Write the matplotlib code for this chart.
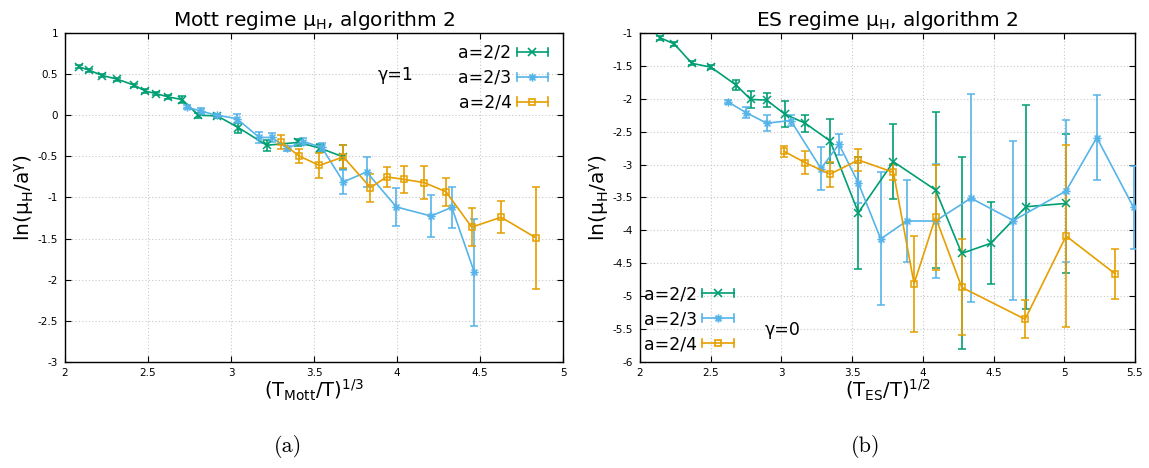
import matplotlib
matplotlib.use("Agg")
import matplotlib.pyplot as plt
from matplotlib.lines import Line2D
from matplotlib.path import Path
from matplotlib.legend_handler import HandlerBase
from matplotlib.ticker import FuncFormatter, MultipleLocator

plt.rcParams["axes.unicode_minus"] = False
plt.rcParams["font.family"] = ["DejaVu Sans"]
plt.rcParams["mathtext.fontset"] = "dejavusans"

# ---------------- Mott regime (panel a) ----------------
mott_labels = ["a=2/2", "a=2/3", "a=2/4"]

mott_x_22 = [2.084, 2.146, 2.225, 2.315, 2.418, 2.482, 2.546, 2.622, 2.706, 2.803,
             2.917, 3.044, 3.215, 3.405, 3.536, 3.677]
mott_y_22 = [0.59, 0.547, 0.483, 0.438, 0.365, 0.295, 0.264, 0.223, 0.19, 0.0,
             -0.008, -0.15, -0.365, -0.33, -0.40, -0.507]
mott_e_22 = [0.02, 0.02, 0.02, 0.02, 0.02, 0.02, 0.02, 0.02, 0.04, 0.03,
             0.02, 0.06, 0.07, 0.045, 0.05, 0.15]

mott_x_23 = [2.733, 2.818, 2.914, 3.034, 3.17, 3.245, 3.339, 3.435, 3.546, 3.677,
             3.817, 3.996, 4.205, 4.33, 4.466]
mott_y_23 = [0.10, 0.05, 0.0, -0.04, -0.27, -0.27, -0.40, -0.32, -0.39, -0.81,
             -0.69, -1.115, -1.225, -1.12, -1.91]
mott_e_23 = [0.03, 0.04, 0.02, 0.06, 0.07, 0.05, 0.03, 0.04, 0.05, 0.15,
             0.18, 0.23, 0.26, 0.25, 0.65]

mott_x_24 = [3.30, 3.41, 3.532, 3.677, 3.84, 3.937, 4.044, 4.165, 4.295, 4.45, 4.627, 4.837]
mott_y_24 = [-0.325, -0.495, -0.61, -0.507, -0.88, -0.75, -0.78, -0.82, -0.93, -1.36, -1.24, -1.49]
mott_e_24 = [0.09, 0.08, 0.15, 0.14, 0.17, 0.125, 0.16, 0.2, 0.17, 0.23, 0.195, 0.62]

# ---------------- ES regime (panel b) ----------------
es_x_22 = [2.141, 2.243, 2.366, 2.502, 2.679, 2.783, 2.896, 3.025, 3.167, 3.344,
           3.544, 3.792, 4.09, 4.275, 4.48, 4.73, 5.013]
es_y_22 = [-1.071, -1.167, -1.46, -1.52, -1.79, -2.01, -2.02, -2.235, -2.37, -2.64,
           -3.73, -2.956, -3.386, -4.35, -4.196, -3.64, -3.59]
es_e_22 = [0.03, 0.03, 0.03, 0.03, 0.08, 0.13, 0.11, 0.2, 0.13, 0.33,
           0.85, 0.57, 1.19, 1.46, 0.62, 1.55, 1.05]

es_x_23 = [2.62, 2.75, 2.896, 3.066, 3.28, 3.407, 3.544, 3.702, 3.886, 4.09,
           4.34, 4.64, 5.013, 5.23, 5.49]
es_y_23 = [-2.044, -2.21, -2.37, -2.33, -3.06, -2.69, -3.28, -4.13, -3.857, -3.857,
           -3.51, -3.85, -3.40, -2.59, -3.65]
es_e_23 = [0.03, 0.08, 0.12, 0.08, 0.33, 0.16, 0.3, 1.01, 0.63, 0.86,
           1.58, 1.21, 1.08, 0.65, 0.63]

es_x_24 = [3.02, 3.167, 3.344, 3.544, 3.792, 3.938, 4.09, 4.275, 4.723, 5.013, 5.36]
es_y_24 = [-2.80, -2.97, -3.145, -2.93, -3.117, -4.81, -3.80, -4.865, -5.35, -4.085, -4.66]
es_e_24 = [0.09, 0.17, 0.19, 0.16, 0.12, 0.73, 0.8, 0.73, 0.29, 1.38, 0.38]

colors = ["#009e73", "#56b4e9", "#e69f00"]

# gnuplot-like asterisk: a plus sign overlaid with a cross
_d = 0.72
asterisk = Path([(-1, 0), (1, 0), (0, -1), (0, 1),
                 (-_d, -_d), (_d, _d), (-_d, _d), (_d, -_d)],
                [Path.MOVETO, Path.LINETO] * 4)
markers = ["x", asterisk, "s"]
msizes = [5.5, 6.0, 4.5]


class HorizontalErrorHandler(HandlerBase):
    """Legend sample drawn as a horizontal error bar with the point marker in the middle."""

    def create_artists(self, legend, orig_handle, xdescent, ydescent,
                       width, height, fontsize, trans):
        c = orig_handle.get_color()
        lw = orig_handle.get_linewidth()
        x0, x1 = -xdescent, width - xdescent
        y = height / 2 - ydescent
        cap = 3.0
        arts = [
            Line2D([x0, x1], [y, y], color=c, lw=lw),
            Line2D([x0, x0], [y - cap, y + cap], color=c, lw=lw),
            Line2D([x1, x1], [y - cap, y + cap], color=c, lw=lw),
            Line2D([(x0 + x1) / 2], [y], color=c, marker=orig_handle.get_marker(),
                   ms=orig_handle.get_markersize(), mfc="none", mew=lw, ls="none"),
        ]
        for a in arts:
            a.set_transform(trans)
        return arts


def fmt(v, pos):
    return "%g" % v


def draw_panel(ax, series, title, xlabel, xlim, ylim, xstep):
    for (x, y, e), c, m, ms in zip(series, colors, markers, msizes):
        ax.errorbar(x, y, yerr=e, color=c, marker=m, ms=ms, mfc="none", mew=1.1,
                    lw=1.2, elinewidth=1.2, capsize=3, capthick=1.2, zorder=3)
    ax.set_xlim(*xlim)
    ax.set_ylim(*ylim)
    ax.xaxis.set_major_locator(MultipleLocator(xstep))
    ax.yaxis.set_major_locator(MultipleLocator(0.5))
    ax.xaxis.set_major_formatter(FuncFormatter(fmt))
    ax.yaxis.set_major_formatter(FuncFormatter(fmt))
    ax.tick_params(direction="in", top=True, right=True, length=4, width=0.8,
                   labelsize=7.5, pad=5)
    ax.tick_params(axis="x", pad=4)
    ax.grid(True, color="#c8c8c8", linestyle=(0, (1, 2)), lw=0.8, zorder=0)
    for s in ax.spines.values():
        s.set_linewidth(1.0)
    ax.set_title(title, fontsize=14.5, pad=5)
    ax.set_xlabel(xlabel, fontsize=14, labelpad=0)
    ax.set_ylabel("ln(μ$_\\mathregular{H}$/a$^\\mathregular{γ}$)", fontsize=14.5, labelpad=1)


fig = plt.figure(figsize=(11.49, 4.68), dpi=100)
ax1 = fig.add_axes([0.0566, 0.2265, 0.4334, 0.703])
ax2 = fig.add_axes([0.557, 0.2265, 0.4308, 0.703])

draw_panel(ax1,
           [(mott_x_22, mott_y_22, mott_e_22),
            (mott_x_23, mott_y_23, mott_e_23),
            (mott_x_24, mott_y_24, mott_e_24)],
           "Mott regime μ$_\\mathregular{H}$, algorithm 2",
           "(T$_\\mathregular{Mott}$/T)$^\\mathregular{1/3}$",
           (2, 5), (-3, 1), 0.5)
draw_panel(ax2,
           [(es_x_22, es_y_22, es_e_22),
            (es_x_23, es_y_23, es_e_23),
            (es_x_24, es_y_24, es_e_24)],
           "ES regime μ$_\\mathregular{H}$, algorithm 2",
           "(T$_\\mathregular{ES}$/T)$^\\mathregular{1/2}$",
           (2, 5.5), (-6, -1), 0.5)

handles = [Line2D([], [], color=c, marker=m, ms=ms, lw=1.2)
           for c, m, ms in zip(colors, markers, msizes)]
hmap = {Line2D: HorizontalErrorHandler()}

ax1.legend(handles, mott_labels, handler_map=hmap, loc="upper right",
           bbox_to_anchor=(0.970, 0.967), borderaxespad=0, borderpad=0,
           frameon=False, markerfirst=False, fontsize=12.5, handlelength=1.8,
           handletextpad=0.3, labelspacing=0.4)
ax2.legend(handles, mott_labels, handler_map=hmap, loc="lower left",
           bbox_to_anchor=(0.008, 0.027), borderaxespad=0, borderpad=0,
           frameon=False, markerfirst=False, fontsize=12.5, handlelength=1.8,
           handletextpad=0.3, labelspacing=0.4)

ax1.text(0.663, 0.872, "γ=1", transform=ax1.transAxes, fontsize=12.5,
         ha="center", va="center")
ax2.text(0.289, 0.097, "γ=0", transform=ax2.transAxes, fontsize=12.5,
         ha="center", va="center")

fig.text(0.2507, 0.045, "(a)", fontfamily="cmr10", fontsize=16, ha="center", va="center")
fig.text(0.753, 0.045, "(b)", fontfamily="cmr10", fontsize=16, ha="center", va="center")

fig.savefig("out.png", dpi=100)
